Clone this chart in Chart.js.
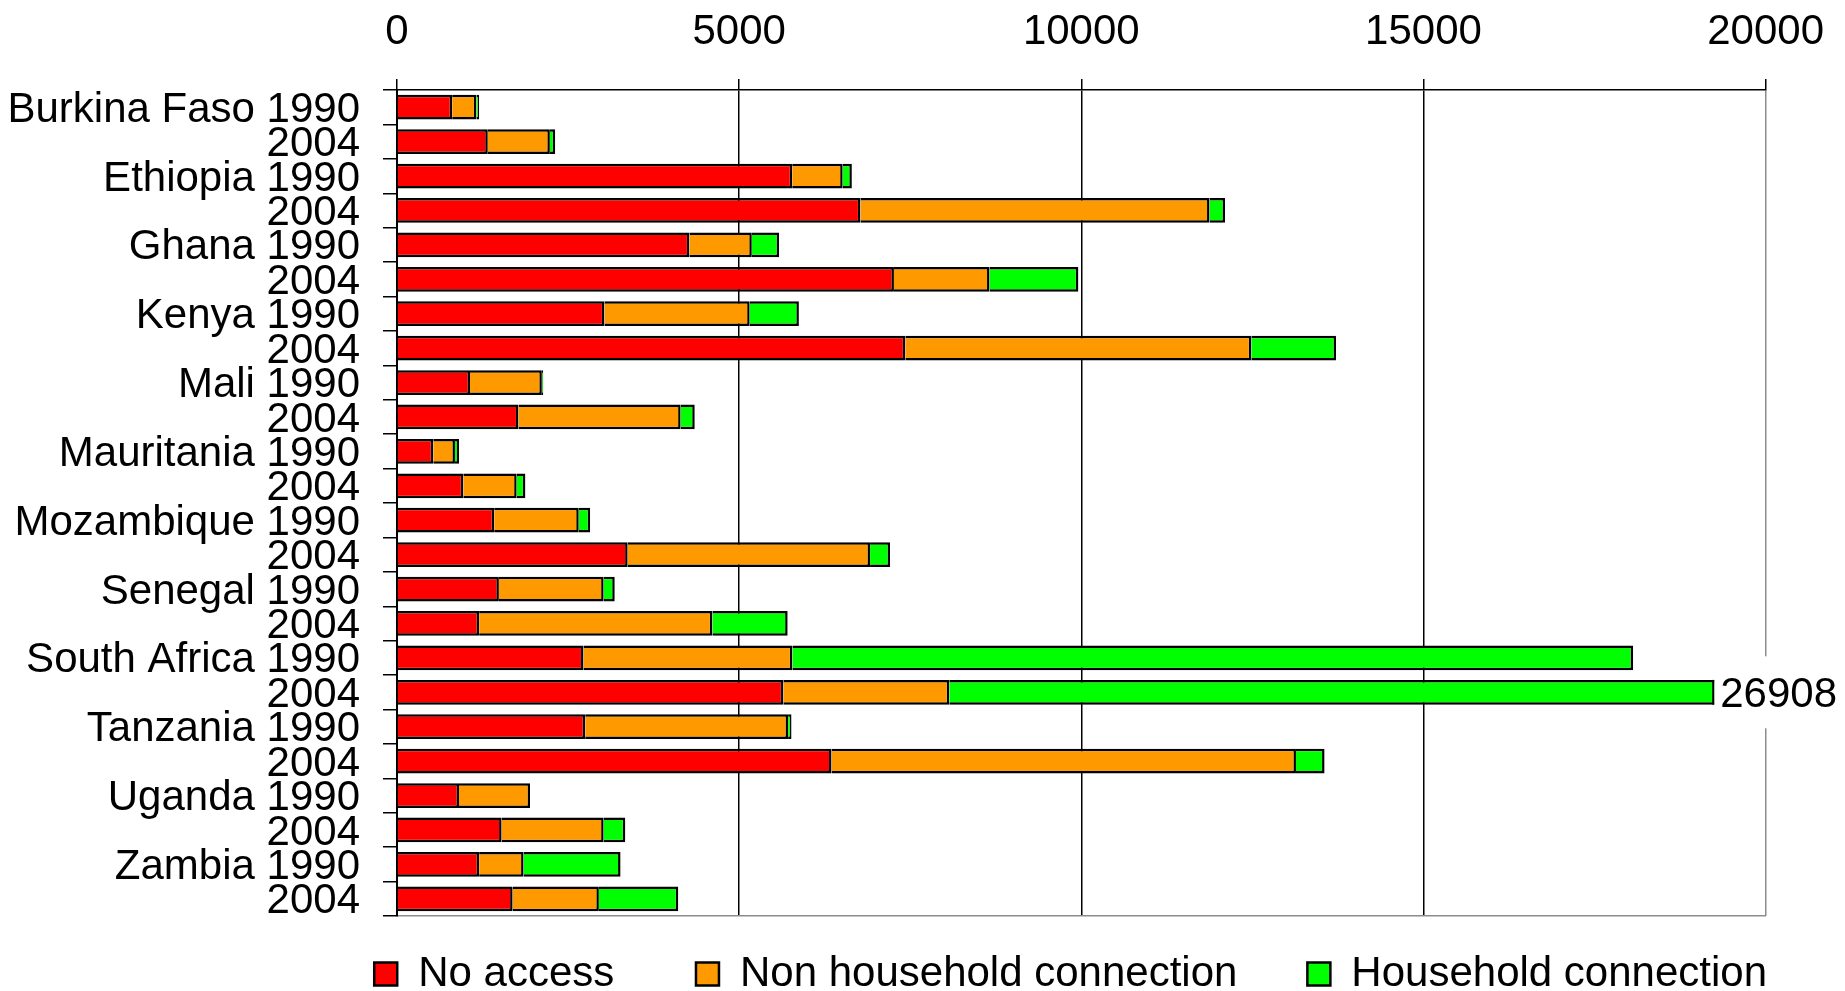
<!DOCTYPE html>
<html>
<head>
<meta charset="utf-8">
<title>Access to water supply, 1990 and 2004</title>
<script src="https://cdn.jsdelivr.net/npm/chart.js@4.4.1/dist/chart.umd.min.js"></script>
<style>
  html, body { margin: 0; padding: 0; background: #ffffff; }
  #wrap { width: 1845px; height: 991px; }
</style>
</head>
<body>
<div id="wrap"><canvas id="chart" width="1845" height="991"></canvas></div>
<script>
// Countries and survey years (two bars per country)
const countries = ['Burkina Faso', 'Ethiopia', 'Ghana', 'Kenya', 'Mali', 'Mauritania',
  'Mozambique', 'Senegal', 'South Africa', 'Tanzania', 'Uganda', 'Zambia'];
const years = ['1990', '2004'];

// Population (thousands) by access type, ordered country by country: 1990, 2004
const noAccess = [806, 1327, 5775, 6772, 4273, 7262, 3031, 7429, 1067, 1775, 530, 969,
  1420, 3371, 1489, 1200, 2725, 5646, 2750, 6350, 906, 1529, 1200, 1690];
const nonHousehold = [355, 907, 738, 5102, 912, 1397, 2123, 5056, 1050, 2370, 317, 780,
  1236, 3542, 1531, 3409, 3053, 2425, 2965, 6787, 1039, 1491, 650, 1260];
const household = [40, 78, 134, 227, 399, 1298, 719, 1238, 20, 206, 59, 127,
  167, 293, 162, 1100, 12286, 18837, 50, 418, 0, 316, 1417, 1160];

// Value axis
const xTicks = [0, 5000, 10000, 15000, 20000];
const xMax = 20000;

const FONT = '"Liberation Sans", Arial, Helvetica, sans-serif';
const FONT_SIZE = 42;

// Row labels: country name on the first year, year only on the second
const labels = [];
countries.forEach(c => {
  labels.push(c + ' ' + years[0]);
  labels.push(years[1]);
});

const totals = noAccess.map((v, i) => v + nonHousehold[i] + household[i]);

// Bars running past the axis maximum get their total written at the end
const overflowLabel = {
  id: 'overflowLabel',
  afterDraw(chart) {
    const { ctx } = chart;
    const xScale = chart.scales.x;
    const lastMeta = chart.getDatasetMeta(chart.data.datasets.length - 1);
    totals.forEach((t, i) => {
      if (t <= xScale.max) return;
      const bar = lastMeta.data[i];
      const text = String(t);
      ctx.save();
      ctx.font = FONT_SIZE + 'px ' + FONT;
      const w = ctx.measureText(text).width;
      const right = chart.width - 8;
      const left = right - w - 6;
      ctx.fillStyle = '#ffffff';
      ctx.fillRect(left, bar.y - 36, chart.width - left, 72);
      ctx.strokeStyle = '#000000';
      ctx.lineWidth = 2;
      ctx.beginPath();
      ctx.moveTo(left - 1, bar.y - bar.height / 2);
      ctx.lineTo(left - 1, bar.y + bar.height / 2);
      ctx.stroke();
      ctx.fillStyle = '#000000';
      ctx.textAlign = 'right';
      ctx.textBaseline = 'middle';
      ctx.fillText(text, right, bar.y + 3);
      ctx.restore();
    });
  }
};

const barStyle = { borderColor: '#000000', borderWidth: 2.5, barPercentage: 0.72, categoryPercentage: 1.0 };

// gap after each legend entry except the last
const legendGaps = ['       ', '      '];

new Chart(document.getElementById('chart'), {
  type: 'bar',
  data: {
    labels: labels,
    datasets: [
      Object.assign({ label: 'No access', data: noAccess, backgroundColor: '#FF0000' }, barStyle),
      Object.assign({ label: 'Non household connection', data: nonHousehold, backgroundColor: '#FF9900' }, barStyle),
      Object.assign({ label: 'Household connection', data: household, backgroundColor: '#00FF00' }, barStyle)
    ]
  },
  options: {
    indexAxis: 'y',
    responsive: false,
    animation: false,
    devicePixelRatio: 1,
    layout: { padding: { left: 0, right: 78, top: 0, bottom: -14 } },
    scales: {
      x: {
        position: 'top',
        stacked: true,
        min: 0,
        max: xMax,
        afterBuildTicks: s => { s.ticks = xTicks.map(v => ({ value: v })); },
        afterFit: s => { s.height = 90; },
        grid: {
          color: c => (c.tick && c.tick.value === xMax) ? '#8c8c8c' : '#000000',
          tickColor: '#000000',
          lineWidth: 1.5,
          tickLength: 11
        },
        border: { color: '#000000', width: 1.5 },
        ticks: {
          color: '#000000',
          font: { family: FONT, size: FONT_SIZE },
          padding: 21,
          maxRotation: 0,
          autoSkip: false,
          callback: v => String(v)
        }
      },
      // bottom edge of the plot frame, also leaves room above the legend
      xFrame: {
        type: 'linear',
        axis: 'x',
        position: 'bottom',
        min: 0,
        max: xMax,
        afterFit: s => { s.height = 37; },
        grid: { drawOnChartArea: false, drawTicks: false },
        ticks: { display: false },
        border: { color: '#8c8c8c', width: 1.5 }
      },
      y: {
        stacked: true,
        afterFit: s => { s.width = 397; },
        grid: {
          drawOnChartArea: false,
          drawTicks: true,
          offset: true,
          tickLength: 14,
          color: '#000000',
          lineWidth: 1.5
        },
        border: { color: '#000000', width: 2 },
        ticks: {
          color: '#000000',
          font: { family: FONT, size: FONT_SIZE },
          padding: 23,
          labelOffset: 3,
          autoSkip: false
        }
      }
    },
    plugins: {
      tooltip: { enabled: false },
      legend: {
        position: 'bottom',
        fullSize: true,
        align: 'end',
        labels: {
          color: '#000000',
          font: { family: FONT, size: FONT_SIZE },
          boxWidth: 23,
          boxHeight: 23,
          padding: 0,
          generateLabels: chart => {
            const items = Chart.defaults.plugins.legend.labels.generateLabels(chart);
            items.forEach((it, i) => { if (legendGaps[i]) it.text += legendGaps[i]; });
            return items;
          }
        }
      }
    }
  },
  plugins: [overflowLabel]
});
</script>
</body>
</html>
